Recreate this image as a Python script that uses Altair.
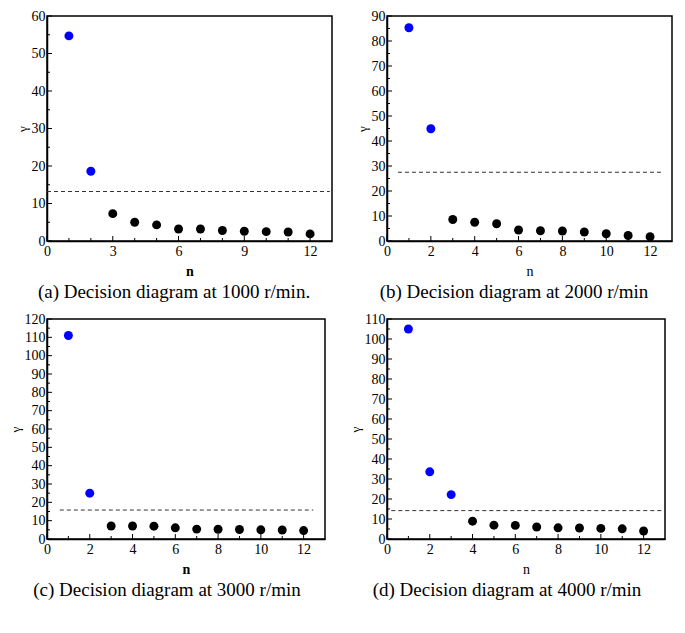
import altair as alt
import pandas as pd

# ---- data ----
n_vals = [1, 2, 3, 4, 5, 6, 7, 8, 9, 10, 11, 12]
gamma_1000 = [54.7, 18.6, 7.3, 5.0, 4.3, 3.2, 3.2, 2.8, 2.6, 2.5, 2.4, 1.9]
gamma_2000 = [85.3, 44.9, 8.6, 7.5, 6.9, 4.4, 4.1, 4.0, 3.6, 2.9, 2.2, 1.7]
gamma_3000 = [111.0, 25.0, 7.1, 7.1, 7.0, 6.1, 5.4, 5.3, 5.2, 5.0, 4.9, 4.6]
gamma_4000 = [105.0, 33.6, 22.2, 8.9, 6.9, 6.8, 6.0, 5.6, 5.5, 5.3, 5.1, 4.0]

thresholds = [13.2, 27.5, 15.8, 14.2]
threshold_x_start = [0.0, 0.5, 0.6, 0.2]
threshold_x_end = [12.9, 12.55, 12.45, 12.9]

captions = [
    "(a) Decision diagram at 1000 r/min.",
    "(b) Decision diagram at 2000 r/min",
    "(c) Decision diagram at 3000 r/min",
    "(d) Decision diagram at 4000 r/min",
]

y_max = [60, 90, 120, 110]
x_major = [[0, 3, 6, 9, 12], [0, 2, 4, 6, 8, 10, 12], [0, 2, 4, 6, 8, 10, 12], [0, 2, 4, 6, 8, 10, 12]]
x_minor = [[1, 2, 4, 5, 7, 8, 10, 11], [1, 3, 5, 7, 9, 11], [1, 3, 5, 7, 9, 11], [1, 3, 5, 7, 9, 11]]

FONT = "Liberation Serif"


def panel(gamma, thr, tx0, tx1, ymax, xmaj, xmin, caption, w, h, nbold, yext):
    ymaj = list(range(0, ymax + 1, 10))
    ymin = list(range(5, ymax, 10))
    xs = alt.Scale(domain=[0, 13], nice=False)
    ys = alt.Scale(domain=[0, ymax], nice=False)
    xax = alt.Axis(
        values=xmaj, ticks=False, grid=False, labelFlush=False, labelOverlap=False,
        domainColor="black", domainWidth=1.5,
        labelFont=FONT, labelFontSize=14, labelColor="black", labelPadding=3,
        title="n", titleFont=FONT, titleFontSize=14,
        titleFontWeight="bold" if nbold else "normal", titleColor="black", titlePadding=6)
    yax = alt.Axis(
        values=ymaj, ticks=False, grid=False, labelFlush=False, labelOverlap=False,
        domainColor="black", domainWidth=1.5,
        labelFont=FONT, labelFontSize=14, labelColor="black", labelPadding=2,
        minExtent=yext, maxExtent=yext,
        title="γ", titleFont=FONT, titleFontSize=13, titleFontWeight="normal",
        titleColor="black", titlePadding=2)

    pts = pd.DataFrame({"n": n_vals, "gamma": gamma})
    points = alt.Chart(pts).mark_circle(size=80, opacity=1).encode(
        x=alt.X("n:Q", scale=xs, axis=xax),
        y=alt.Y("gamma:Q", scale=ys, axis=yax),
        color=alt.condition(alt.datum.gamma > thr, alt.value("#0000FF"), alt.value("#000000")),
    )

    thr_df = pd.DataFrame({"x0": [tx0], "x1": [tx1], "t": [thr]})
    dash = alt.Chart(thr_df).mark_rule(color="#333333", strokeWidth=1, strokeDash=[4, 3]).encode(
        x=alt.X("x0:Q", scale=xs, axis=xax), x2="x1:Q", y=alt.Y("t:Q", scale=ys, axis=yax))

    def yt(vals, size):
        return alt.Chart(pd.DataFrame({"v": vals})).mark_rule(color="black", strokeWidth=1).encode(
            y=alt.Y("v:Q", scale=ys, axis=yax), x=alt.value(0), x2=alt.value(size))

    def xt(vals, size):
        return alt.Chart(pd.DataFrame({"v": vals})).mark_rule(color="black", strokeWidth=1).encode(
            x=alt.X("v:Q", scale=xs, axis=xax), y=alt.value(h), y2=alt.value(h - size))

    return alt.layer(points, dash, yt(ymaj, 5), yt(ymin, 3), xt(xmaj, 5), xt(xmin, 3)).properties(
        width=w, height=h,
        title=alt.TitleParams(text=caption, orient="bottom", font=FONT, fontSize=19,
                              fontWeight="normal", color="black", offset=5,
                              anchor="middle", frame="bounds"),
    )


gammas = [gamma_1000, gamma_2000, gamma_3000, gamma_4000]
sizes = [(285, 225), (285, 225), (278, 220), (278, 220)]
extents = [16, 16, 23, 23]
bold = [True, False, True, False]
panels = [panel(gammas[i], thresholds[i], threshold_x_start[i], threshold_x_end[i], y_max[i],
                x_major[i], x_minor[i], captions[i], sizes[i][0], sizes[i][1], bold[i], extents[i])
          for i in range(4)]

top = alt.hconcat(panels[0], panels[1], spacing=22)
bottom = alt.hconcat(panels[2], panels[3], spacing=22)
chart = alt.vconcat(top, bottom, spacing=8).properties(
    padding={"left": 0, "top": 0, "right": 0, "bottom": 0}).configure_view(
    stroke="black", strokeWidth=1.5)

chart.save("out.html", embed_options={"renderer": "svg", "actions": False})
